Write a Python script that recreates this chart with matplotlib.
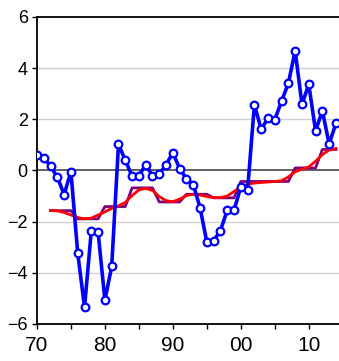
import numpy as np
import matplotlib
matplotlib.use("Agg")
import matplotlib.pyplot as plt
from matplotlib.ticker import MultipleLocator, FuncFormatter


# annual series, 1970-2014
years = np.arange(1970, 2015)
gap = [0.61, 0.50, 0.17, -0.26, -0.94, -0.04, -3.23, -5.34, -2.36, -2.42,
       -5.07, -3.75, 1.02, 0.40, -0.22, -0.21, 0.23, -0.20, -0.14, 0.22,
       0.70, 0.07, -0.32, -0.55, -1.45, -2.80, -2.75, -2.35, -1.56, -1.56,
       -0.64, -0.75, 2.57, 1.61, 2.04, 1.99, 2.71, 3.41, 4.68, 2.58,
       3.37, 1.55, 2.33, 1.04, 1.84]

# trend and regime means start in 1972
years_trend = np.arange(1972, 2015)
trend = [-1.56, -1.58, -1.64, -1.74, -1.84, -1.89, -1.86, -1.74, -1.62, -1.48,
         -1.38, -1.25, -0.98, -0.76, -0.70, -0.78, -1.02, -1.18, -1.22, -1.12,
         -0.98, -0.93, -0.96, -1.02, -1.06, -1.06, -1.00, -0.82, -0.64, -0.54,
         -0.49, -0.47, -0.45, -0.43, -0.40, -0.25, -0.05, 0.05, 0.14, 0.36,
         0.62, 0.80, 0.86]

regime_len = [4, 4, 4, 4, 4, 4, 4, 8, 4, 3]
regime_mean = [-1.57, -1.89, -1.41, -0.68, -1.23, -0.93, -1.07, -0.43, 0.10, 0.82]
regime = np.repeat(regime_mean, regime_len)


def main():
    plt.rcParams['font.family'] = ['Liberation Sans', 'DejaVu Sans']
    fig = plt.figure(figsize=(3.39, 3.61), dpi=100)
    ax = fig.add_axes([0.109, 0.1025, 0.891, 0.8505])

    for v in [-4, -2, 2, 4]:
        ax.axhline(v, color='#d0d0d0', lw=1.0, zorder=0)
    ax.axhline(0, color='#555555', lw=1.3, zorder=1)

    ax.plot(years_trend, regime, color='#800080', lw=2.0, zorder=2)
    ax.plot(years_trend, trend, color='#ff0000', lw=2.0, zorder=3)
    ax.plot(years, gap, color='#0000ff', lw=2.6, marker='o', ms=5.5,
            mfc='white', mec='#0000ff', mew=1.6, zorder=4)

    ax.set_xlim(1970, 2014.45)
    ax.set_ylim(-6, 6)
    ax.yaxis.set_major_locator(MultipleLocator(2))
    ax.xaxis.set_major_locator(MultipleLocator(10))
    ax.xaxis.set_minor_locator(MultipleLocator(5))
    ax.xaxis.set_major_formatter(FuncFormatter(lambda x, p: '%02d' % (int(x) % 100)))

    ax.spines['right'].set_visible(False)
    for s in ['left', 'top', 'bottom']:
        ax.spines[s].set_linewidth(1.3)
        ax.spines[s].set_color('black')
    ax.tick_params(axis='both', which='both', direction='out',
                   width=1.0, length=3.6)
    ax.tick_params(axis='y', labelsize=13, pad=3)
    ax.tick_params(axis='x', labelsize=15, pad=5)

    fig.savefig('out.png', dpi=100)


if __name__ == "__main__":
    main()
